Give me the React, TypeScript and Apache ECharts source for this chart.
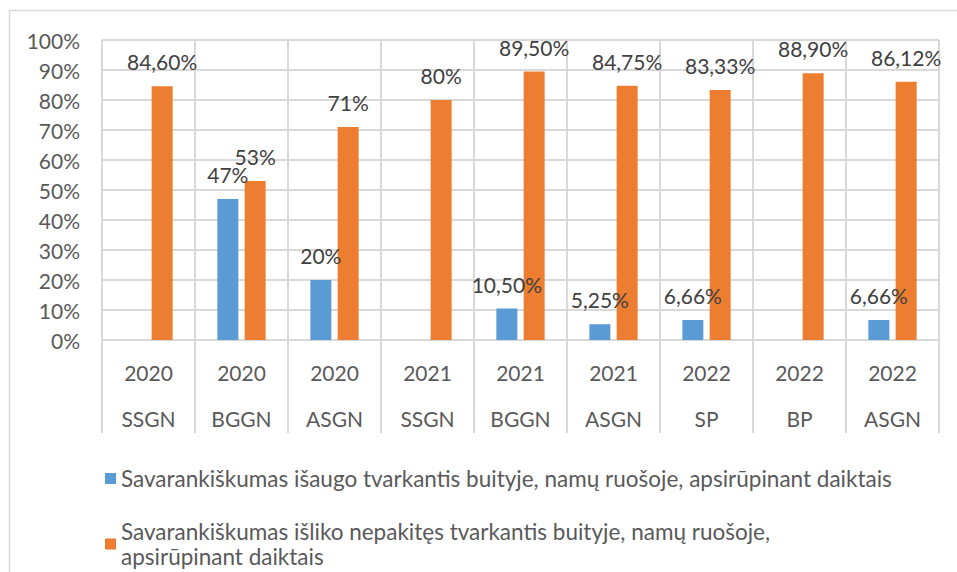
import React, { useEffect, useRef } from "react";
import * as echarts from "echarts";

const years = ["2020", "2020", "2020", "2021", "2021", "2021", "2022", "2022", "2022"];
const groups = ["SSGN", "BGGN", "ASGN", "SSGN", "BGGN", "ASGN", "SP", "BP", "ASGN"];
const increased = [0, 47, 20, 0, 10.5, 5.25, 6.66, 0, 6.66];
const unchanged = [84.6, 53, 71, 80, 89.5, 84.75, 83.33, 88.9, 86.12];
const seriesNames = [
  "Savarankiškumas išaugo tvarkantis buityje, namų ruošoje, apsirūpinant daiktais",
  "Savarankiškumas išliko nepakitęs tvarkantis buityje, namų ruošoje, apsirūpinant daiktais",
];
const yTicks = { min: 0, max: 100, interval: 10 };

const FONT = "Lato";
const GRID_COLOR = "#d9d9d9";

const fmt = (v: number) =>
  v === 0 ? "" : (Number.isInteger(v) ? String(v) : v.toFixed(2).replace(".", ",")) + "%";

export default function App() {
  const ref = useRef<HTMLDivElement>(null);
  useEffect(() => {
    if (!ref.current) return;
    const chart = echarts.init(ref.current, null, { renderer: "svg" });
    const labelCfg = {
      show: true,
      position: "top",
      distance: 14,
      color: "#404040",
      fontFamily: FONT,
      fontSize: 21,
      formatter: (p: any) => fmt(p.value),
    };
    const legendText = { color: "#595959", fontFamily: FONT, fontSize: 22.5, lineHeight: 25 };
    chart.setOption({
      animation: false,
      backgroundColor: "#fff",
      textStyle: { fontFamily: FONT },
      graphic: [
        {
          type: "rect",
          shape: { x: 9.5, y: 10.5, width: 1000, height: 700 },
          style: { fill: "none", stroke: GRID_COLOR, lineWidth: 1.5 },
          silent: true,
          z: -1,
        },
      ],
      grid: { left: 102, right: 18, top: 40, bottom: 232, containLabel: false },
      legend: [
        {
          data: [seriesNames[0]],
          left: 100,
          top: 461,
          orient: "vertical",
          itemWidth: 11,
          itemHeight: 11,
          icon: "rect",
          selectedMode: false,
          textStyle: legendText,
        },
        {
          data: [seriesNames[1]],
          left: 100,
          top: 501.5,
          orient: "vertical",
          itemWidth: 11,
          itemHeight: 11,
          icon: "rect",
          selectedMode: false,
          textStyle: {
            ...legendText,
            width: 790,
            overflow: "break",
            padding: [25, 0, 0, 0],
          },
        },
      ],
      xAxis: {
        type: "category",
        data: years.map((y, i) => `${y}\n${groups[i]}`),
        axisLine: { show: true, lineStyle: { color: GRID_COLOR, width: 2 } },
        axisTick: { show: true, length: 93, interval: 0, lineStyle: { color: GRID_COLOR, width: 2 } },
        splitLine: { show: true, interval: 0, lineStyle: { color: GRID_COLOR, width: 2 } },
        axisLabel: {
          interval: 0,
          margin: 9,
          color: "#595959",
          fontFamily: FONT,
          fontSize: 21,
          lineHeight: 46,
        },
      },
      yAxis: {
        type: "value",
        min: yTicks.min,
        max: yTicks.max,
        interval: yTicks.interval,
        axisLine: { show: false },
        axisTick: { show: false },
        splitLine: { show: true, lineStyle: { color: GRID_COLOR, width: 2 } },
        axisLabel: {
          formatter: "{value}%",
          margin: 22,
          color: "#595959",
          fontFamily: FONT,
          fontSize: 21,
        },
      },
      series: [
        {
          name: seriesNames[0],
          type: "bar",
          data: increased,
          barWidth: 21,
          barGap: "30%",
          itemStyle: { color: "#5b9bd5" },
          label: labelCfg,
        },
        {
          name: seriesNames[1],
          type: "bar",
          data: unchanged,
          barWidth: 21,
          barGap: "30%",
          itemStyle: { color: "#ed7d31" },
          label: labelCfg,
        },
      ],
    });
    return () => chart.dispose();
  }, []);
  return (
    <div
      ref={ref}
      style={{ position: "absolute", left: 0, top: 0, width: 957, height: 572 }}
    />
  );
}
